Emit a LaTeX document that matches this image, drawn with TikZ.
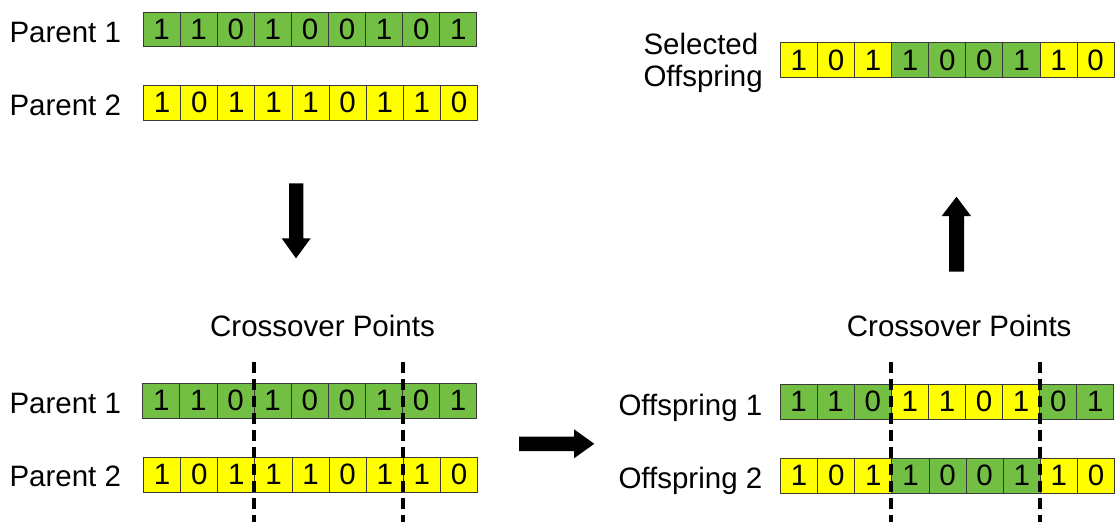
\documentclass[tikz,border=0pt]{standalone}
\usepackage{fontspec}
\setmainfont{Liberation Sans}
\definecolor{grn}{HTML}{72BF44}
\definecolor{ylw}{HTML}{FFFF00}
\definecolor{edge}{HTML}{3A3A3A}

% one chromosome: #1 name, #2 left x, #3 top y, #4 list of bit/colour
\newcommand\genomerow[4]{%
  \foreach \bit/\col [count=\k] in {#4}
    \node[cell, fill=\col] (#1-\k) at ({#2+(\k-0.5)*37.1},{#3+17.4}) {\bit};
}

\tikzset{
  txt/.style={font=\fontsize{29.5}{31}\selectfont, inner sep=0pt, outer sep=0pt},
  cell/.style={txt, draw=edge, line width=0.9pt, minimum width=37.1pt,
               minimum height=34.8pt, anchor=center},
  lbl/.style={txt, anchor=base west},
  ttl/.style={txt, anchor=base},
  cut/.style={line width=4pt, dash pattern=on 11pt off 6pt},
  blockarrow/.style={fill=black}
}

\begin{document}
\begin{tikzpicture}[x=1pt,y=-1pt]
  \useasboundingbox (0,0) rectangle (1115,522);

  % parents before crossover
  \node[lbl] (tp1) at (9.5,42.7) {Parent 1};
  \node[lbl] (tp2) at (9.5,115.5) {Parent 2};
  \genomerow{a}{143}{12}{1/grn,1/grn,0/grn,1/grn,0/grn,0/grn,1/grn,0/grn,1/grn}
  \genomerow{b}{143.6}{85.3}{1/ylw,0/ylw,1/ylw,1/ylw,1/ylw,0/ylw,1/ylw,1/ylw,0/ylw}

  % parents with crossover points
  \node[ttl] (cpl) at (322.5,336.7) {Crossover Points};
  \node[lbl] (bp1) at (9.5,413.3) {Parent 1};
  \node[lbl] (bp2) at (9.5,486.7) {Parent 2};
  \genomerow{c}{142.8}{383.4}{1/grn,1/grn,0/grn,1/grn,0/grn,0/grn,1/grn,0/grn,1/grn}
  \genomerow{d}{143.6}{457.4}{1/ylw,0/ylw,1/ylw,1/ylw,1/ylw,0/ylw,1/ylw,1/ylw,0/ylw}

  % offspring
  \node[ttl] (cpr) at (959.2,336.7) {Crossover Points};
  \node[lbl] (of1) at (618.5,415) {Offspring 1};
  \node[lbl] (of2) at (618.5,488) {Offspring 2};
  \genomerow{e}{780}{384.4}{1/grn,1/grn,0/grn,1/ylw,1/ylw,0/ylw,1/ylw,0/grn,1/grn}
  \genomerow{f}{780.6}{458.4}{1/ylw,0/ylw,1/ylw,1/grn,0/grn,0/grn,1/grn,1/ylw,0/ylw}

  % selected offspring
  \node[lbl] (sel1) at (643.5,54.3) {Selected};
  \node[lbl] (sel2) at (643.5,86) {Offspring};
  \genomerow{s}{780.3}{42.8}{1/ylw,0/ylw,1/ylw,1/grn,0/grn,0/grn,1/grn,1/ylw,0/ylw}

  % crossover cut lines
  \coordinate (l1t) at (254.3,361.7); \coordinate (l1b) at (254.3,522);
  \coordinate (l2t) at (402.7,361.7); \coordinate (l2b) at (402.7,522);
  \coordinate (r1t) at (891.4,361.7); \coordinate (r1b) at (891.4,522);
  \coordinate (r2t) at (1040,361.7);  \coordinate (r2b) at (1040,522);
  \draw[cut] (l1t) -- (l1b);
  \draw[cut] (l2t) -- (l2b);
  \draw[cut] (r1t) -- (r1b);
  \draw[cut] (r2t) -- (r2b);

  % block arrows between the stages
  \fill[blockarrow] (289,183.3) -- (303.3,183.3) -- (303.3,238.3) -- (310.7,238.3)
    -- (296,258.3) -- (281.7,238.3) -- (289,238.3) -- cycle;
  \fill[blockarrow] (519,436.7) -- (574,436.7) -- (574,429.3) -- (594.3,443.8)
    -- (574,458.3) -- (574,451) -- (519,451) -- cycle;
  \fill[blockarrow] (949,271.7) -- (964,271.7) -- (964,216) -- (971,216)
    -- (956.5,196.7) -- (941.7,216) -- (949,216) -- cycle;
\end{tikzpicture}
\end{document}
